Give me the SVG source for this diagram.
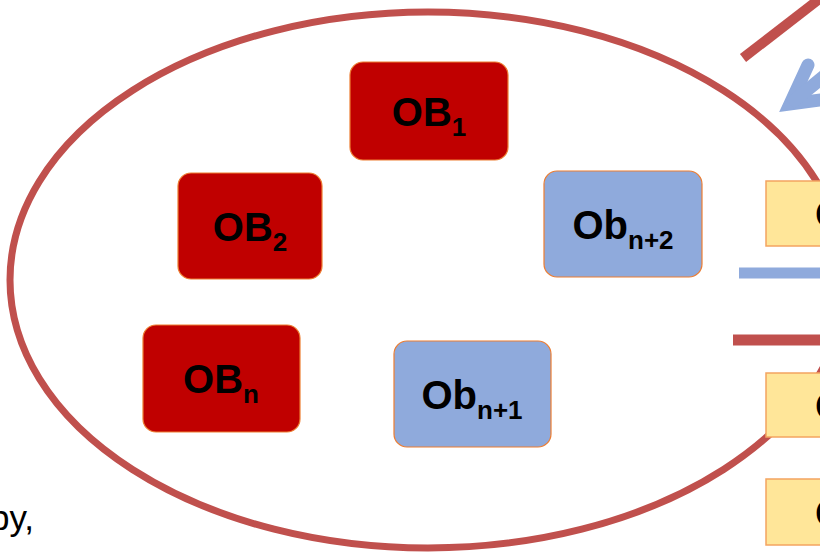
<svg xmlns="http://www.w3.org/2000/svg" width="820" height="554" viewBox="0 0 820 554">
  <style>
    .box { stroke: #ED7D31; stroke-width: 1.2; }
    .red { fill: #C00000; }
    .blue { fill: #8FAADC; }
    .yel { fill: #FFE699; stroke: #F4A460; stroke-width: 1.5; }
    .lbl { font-family: "Liberation Sans", Arial, sans-serif; font-weight: bold; font-size: 40px; fill: #000; }
    .sub { font-size: 26px; }
    .plain { font-family: "Liberation Sans", Arial, sans-serif; font-size: 35px; fill: #000; }
  </style>
  <rect width="820" height="554" fill="#fff"/>
  <g id="connectors">
    <ellipse cx="428" cy="280" rx="418" ry="268" fill="none" stroke="#C0504D" stroke-width="7"/>
    <line x1="743" y1="58" x2="822" y2="-3" stroke="#C0504D" stroke-width="10"/>
    <polyline points="808,65 790,104 835,98" fill="none" stroke="#8FAADC" stroke-width="13" stroke-linecap="round" stroke-linejoin="miter" stroke-miterlimit="10"/>
    <line x1="790" y1="104" x2="850" y2="55" stroke="#8FAADC" stroke-width="13"/>
    <line x1="739" y1="273" x2="820" y2="273" stroke="#8FAADC" stroke-width="11"/>
    <line x1="733" y1="340" x2="820" y2="340" stroke="#C0504D" stroke-width="11"/>
  </g>
  <g id="ob1">
    <rect class="box red" x="350" y="62" width="158" height="98" rx="13"/>
    <text class="lbl" x="429" y="126" text-anchor="middle">OB<tspan class="sub" dy="10">1</tspan></text>
  </g>
  <g id="ob2">
    <rect class="box red" x="178" y="173" width="144" height="106" rx="13"/>
    <text class="lbl" x="250" y="241" text-anchor="middle">OB<tspan class="sub" dy="10">2</tspan></text>
  </g>
  <g id="obn">
    <rect class="box red" x="143" y="325" width="157" height="107" rx="13"/>
    <text class="lbl" x="221" y="393" text-anchor="middle">OB<tspan class="sub" dy="10">n</tspan></text>
  </g>
  <g id="obn2">
    <rect class="box blue" x="544" y="171" width="158" height="106" rx="13"/>
    <text class="lbl" x="623" y="239" text-anchor="middle">Ob<tspan class="sub" dy="10">n+2</tspan></text>
  </g>
  <g id="obn1">
    <rect class="box blue" x="394" y="341" width="157" height="106" rx="13"/>
    <text class="lbl" x="472" y="409" text-anchor="middle">Ob<tspan class="sub" dy="10">n+1</tspan></text>
  </g>
  <g id="y1">
    <rect class="yel" x="766" y="181" width="80" height="65"/>
    <text class="lbl" x="815" y="228">O</text>
  </g>
  <g id="y2">
    <rect class="yel" x="766" y="373" width="80" height="64"/>
    <text class="lbl" x="815" y="420">O</text>
  </g>
  <g id="y3">
    <rect class="yel" x="766" y="479" width="80" height="66"/>
    <text class="lbl" x="815" y="527">O</text>
  </g>
  <text class="plain" x="-10" y="530">py,</text>
</svg>
